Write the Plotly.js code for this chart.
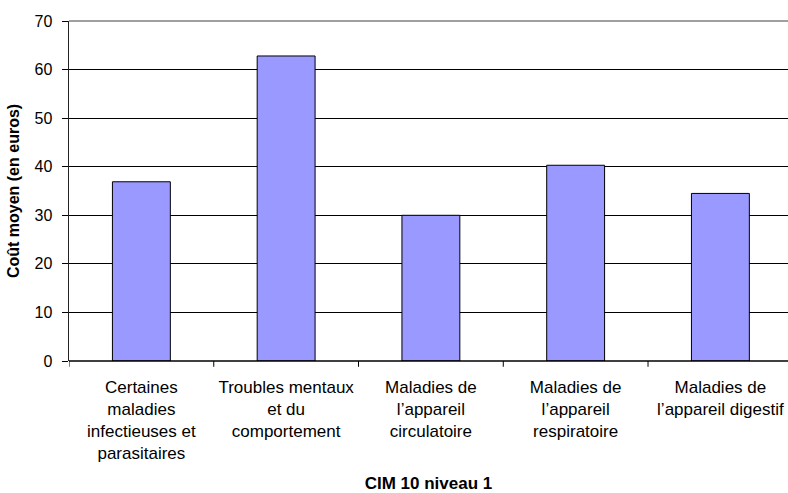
<!DOCTYPE html>
<html>
<head>
<meta charset="utf-8">
<script src="https://cdn.plot.ly/plotly-3.0.1.min.js"></script>
<style>html,body{margin:0;padding:0;background:#fff;}#chart{width:788px;height:493px;}</style>
</head>
<body>
<div id="chart"></div>
<script>
const categories = [
  "Certaines<br>maladies<br>infectieuses et<br>parasitaires",
  "Troubles mentaux<br>et du<br>comportement",
  "Maladies de<br>l’appareil<br>circulatoire",
  "Maladies de<br>l’appareil<br>respiratoire",
  "Maladies de<br>l’appareil digestif"
];
const coutMoyen = [36.9, 62.8, 30.0, 40.3, 34.5];
const yTicks = [0, 10, 20, 30, 40, 50, 60, 70];
const xTitle = "CIM 10 niveau 1";
const yTitle = "Coût moyen (en euros)";

const font = "Liberation Sans, Arial, sans-serif";

const trace = {
  type: "bar",
  x: [0, 1, 2, 3, 4],
  y: coutMoyen,
  width: 0.4,
  marker: { color: "#9999FF", line: { color: "#000000", width: 1 } },
  hoverinfo: "skip"
};

const layout = {
  width: 788, height: 493,
  margin: { l: 69, r: 0, t: 21, b: 132, pad: 0 },
  paper_bgcolor: "#ffffff", plot_bgcolor: "#ffffff",
  showlegend: false,
  font: { family: font, color: "#000000", size: 16 },
  xaxis: {
    type: "linear",
    range: [-0.5, 4.467],
    tickmode: "array",
    tickvals: [0, 1, 2, 3, 4],
    ticktext: categories,
    ticks: "",
    ticklabelstandoff: 14,
    showgrid: false,
    zeroline: false,
    showline: false,
    tickfont: { family: font, size: 17, color: "#000" },
    title: { text: xTitle, font: { family: font, size: 17, color: "#000", weight: "bold" }, standoff: 22 },
    fixedrange: true
  },
  yaxis: {
    range: [0, 70],
    tickmode: "array",
    tickvals: yTicks,
    ticks: "outside", ticklen: 6, tickcolor: "#000", tickwidth: 1,
    ticklabelstandoff: 6,
    showgrid: true, gridcolor: "#000000", gridwidth: 1,
    zeroline: false,
    showline: true, linecolor: "#222", linewidth: 1.5,
    tickfont: { family: font, size: 16, color: "#000" },
    title: { text: yTitle, font: { family: font, size: 16, color: "#000", weight: "bold" }, standoff: 11 },
    fixedrange: true
  },
  shapes: [
    { type: "line", xref: "paper", yref: "paper", x0: 0, x1: 1, y0: 1, y1: 1, line: { color: "#808080", width: 1.5 } },
    { type: "line", xref: "paper", yref: "paper", x0: 0, x1: 1, y0: 0, y1: 0, line: { color: "#000", width: 1.5 } }
  ]
};

// category boundary tick marks on the x axis
[-0.5, 0.5, 1.5, 2.5, 3.5].forEach(function (b) {
  layout.shapes.push({ type: "line", xref: "x", yref: "paper", x0: b, x1: b, y0: 0, y1: -0.017, line: { color: "#000", width: 1 } });
});

Plotly.newPlot("chart", [trace], layout, { displayModeBar: false, staticPlot: true });
</script>
</body>
</html>
